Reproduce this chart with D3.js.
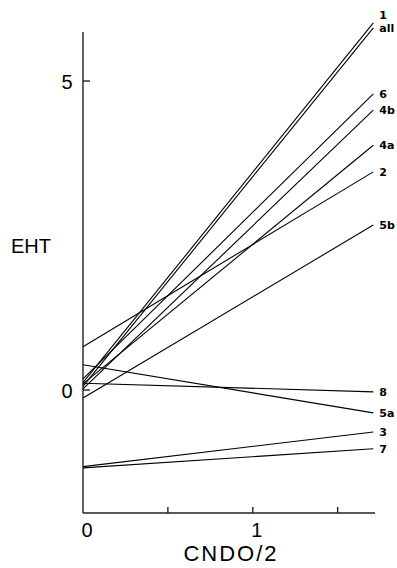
<!DOCTYPE html>
<html>
<head>
<meta charset="utf-8">
<script src="https://cdn.jsdelivr.net/npm/d3@7"></script>
<style>
  html, body { margin: 0; padding: 0; background: #fff; }
  svg { display: block; }
  .axis-line { stroke: #222; stroke-width: 1.4; fill: none; }
  .series { stroke: #000; stroke-width: 1.1; fill: none; }
  .tick-label { font-family: "Liberation Sans", sans-serif; font-size: 20px; fill: #000; }
  .series-label { font-family: "DejaVu Sans", sans-serif; font-size: 11px; font-weight: bold; fill: #000; }
</style>
</head>
<body>
<svg id="chart"></svg>
<script>
// Correlation of EHT vs CNDO/2 values, one straight line per compound
const seriesNames = ["1", "all", "6", "4b", "4a", "2", "5b", "8", "5a", "3", "7"];
const startValues = [0.12, 0.06, 0.18, 0.02, 0.10, 0.70, -0.13, 0.11, 0.41, -1.24, -1.26];
const endValues   = [5.94, 5.86, 4.79, 4.53, 3.96, 3.53, 2.67, -0.03, -0.37, -0.68, -0.95];
const xRange = [0, 1.71];
const xTicks = [0, 0.5, 1, 1.5];
const xTickLabels = [0, 1];
const yTicks = [0, 5];

const width = 397, height = 568;
const margin = { left: 83, top: 32, right: 22, bottom: 55 };

const svg = d3.select("#chart").attr("width", width).attr("height", height);

const x = d3.scaleLinear().domain([0, 1.72]).range([margin.left, 375]);
const y = d3.scaleLinear().domain([-1.99, 5.0]).range([513, 81]);

// axes (drawn by hand, ticks point inward like the original)
svg.append("line").attr("class", "axis-line")
    .attr("x1", x(0)).attr("x2", x(0))
    .attr("y1", margin.top).attr("y2", y(-1.99));
svg.append("line").attr("class", "axis-line")
    .attr("x1", x(0)).attr("x2", x(1.72))
    .attr("y1", y(-1.99)).attr("y2", y(-1.99));

svg.selectAll(".ytick").data(yTicks).enter().append("line")
    .attr("class", "axis-line")
    .attr("x1", x(0)).attr("x2", x(0) + 7)
    .attr("y1", d => y(d)).attr("y2", d => y(d));

svg.selectAll(".xtick").data(xTicks.filter(d => d > 0)).enter().append("line")
    .attr("class", "axis-line")
    .attr("x1", d => x(d)).attr("x2", d => x(d))
    .attr("y1", y(-1.99)).attr("y2", y(-1.99) - 6);

svg.selectAll(".ylab").data(yTicks).enter().append("text")
    .attr("class", "tick-label")
    .attr("x", x(0) - 16)
    .attr("y", d => y(d) + 8)
    .attr("text-anchor", "middle")
    .text(d => d);

svg.selectAll(".xlab").data(xTickLabels).enter().append("text")
    .attr("class", "tick-label")
    .attr("x", d => x(d) + 4)
    .attr("y", y(-1.99) + 24)
    .attr("text-anchor", "middle")
    .text(d => d);

// axis titles
svg.append("text").attr("class", "tick-label")
    .attr("x", 31).attr("y", 253)
    .attr("text-anchor", "middle")
    .text("EHT");

svg.append("text").attr("class", "tick-label")
    .attr("x", 231).attr("y", 561)
    .attr("text-anchor", "middle")
    .style("font-size", "22px")
    .style("letter-spacing", "2px")
    .text("CNDO/2");

// series lines
const rows = seriesNames.map((name, i) => ({ name, y0: startValues[i], y1: endValues[i] }));

svg.selectAll(".series").data(rows).enter().append("line")
    .attr("class", "series")
    .attr("x1", x(xRange[0])).attr("y1", d => y(d.y0))
    .attr("x2", x(xRange[1])).attr("y2", d => y(d.y1));

// labels at the right ends, nudged apart when they would collide
const labelPos = rows.map(d => ({ name: d.name, py: y(d.y1) }))
    .sort((a, b) => b.py - a.py);
for (let i = 1; i < labelPos.length; i++) {
    const prev = labelPos[i - 1];
    if (prev.py - labelPos[i].py < 13) labelPos[i].py = prev.py - 13;
}

svg.selectAll(".series-label").data(labelPos).enter().append("text")
    .attr("class", "series-label")
    .attr("x", x(xRange[1]) + 6)
    .attr("y", d => d.py + 4)
    .text(d => d.name);
</script>
</body>
</html>
